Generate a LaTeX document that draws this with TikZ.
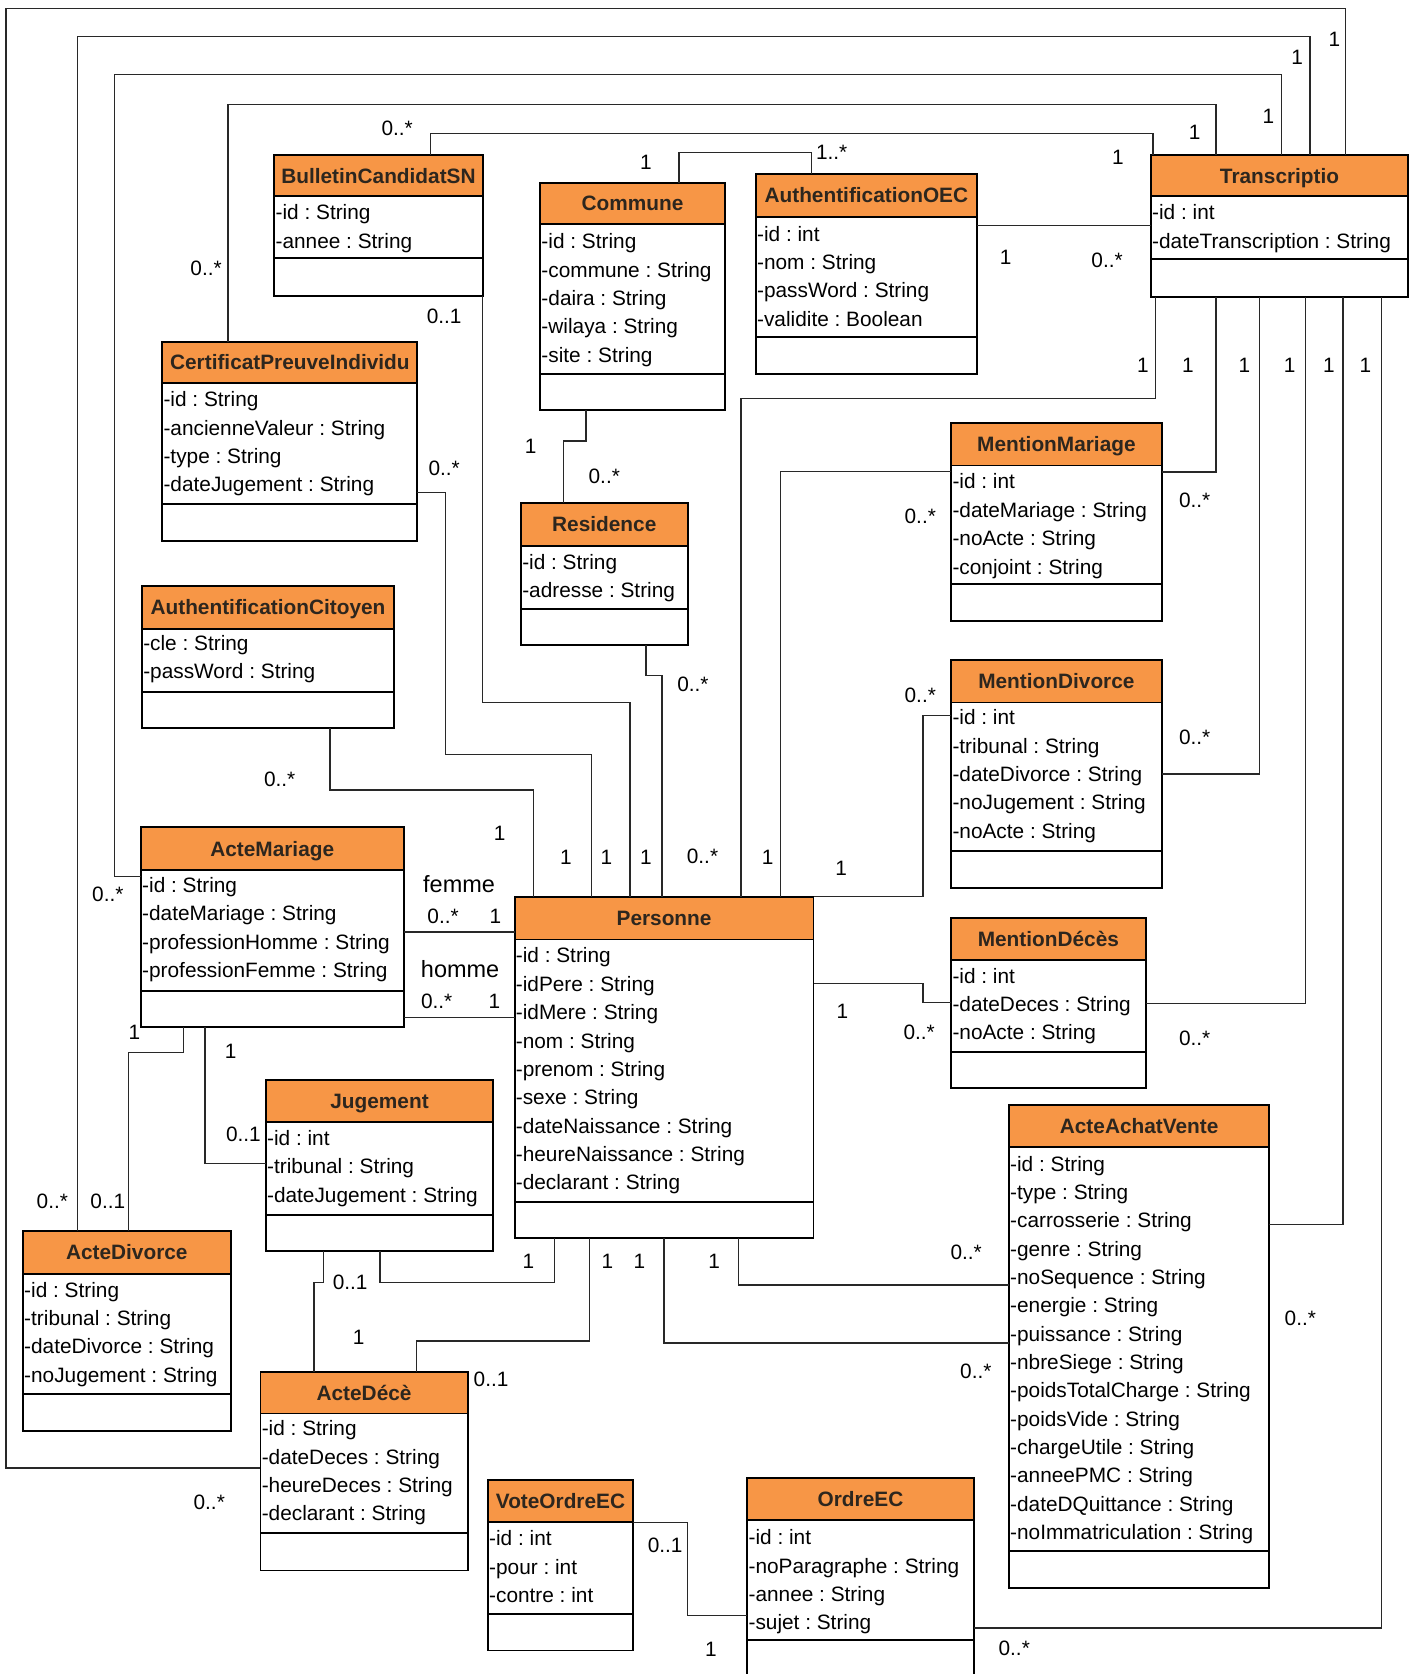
\documentclass[tikz,border=0pt]{standalone}
\usepackage{fontspec}
\setmainfont{Liberation Sans}
\usetikzlibrary{fit}
\frenchspacing
\definecolor{hdr}{RGB}{247,150,70}
\definecolor{ttl}{RGB}{45,38,30}
\definecolor{ln}{RGB}{40,40,40}
\tikzset{
  boxline/.style={line width=1.8pt, draw=black},
  conn/.style={line width=1.2pt, draw=ln},
  ttlstyle/.style={font=\fontsize{19.5}{22}\selectfont\bfseries, text=ttl, inner sep=0pt},
  attrstyle/.style={font=\fontsize{19.5}{22}\selectfont, inner sep=0pt},
  multstyle/.style={font=\fontsize{19.5}{22}\selectfont, inner sep=0pt, anchor=base},
  rolestyle/.style={font=\fontsize{22}{24}\selectfont, inner sep=0pt, anchor=base},
}
% name x1 x2 top headbottom sep bottom title
\newcommand\umlclass[8]{%
  \node[fit={(#2,#4) (#3,#7)}, inner sep=0pt, outer sep=0pt, fill=white] (#1) {};
  \fill[hdr] (#2,#4) rectangle (#3,#5);
  \draw[boxline] (#2,#5) -- (#3,#5) (#2,#6) -- (#3,#6);
  \draw[boxline] (#1.north west) rectangle (#1.south east);
  \node[ttlstyle, anchor=base] (#1-title) at ({(#2+#3)/2},{(#4+#5)/2+7}) {#8};
}
% name x firstcentre list
\newcommand\umlattrs[4]{%
  \foreach \t [count=\i] in {#4} {\node[attrstyle, anchor=base west] (#1-a\i) at ({#2+1},{#3+7+(\i-1)*26.55}) {\t};}
}
\newcommand\mlabel[4]{\node[multstyle] (#1) at (#2,{#3+7}) {#4};}
\begin{document}
\begin{tikzpicture}[x=1pt,y=-1pt]
\path[use as bounding box, fill=white] (0,0) rectangle (1325,1568);
\clip (0,0) rectangle (1325,1568);

% ---------- classes ----------
\umlclass{bcsn}{257}{452}{145}{184}{242}{277}{BulletinCandidatSN}
\umlattrs{bcsn}{257}{199}{-id : String,-annee : String}

\umlclass{commune}{506}{679}{171}{210}{350}{384}{Commune}
\umlattrs{commune}{506}{226}{-id : String,-commune : String,-daira : String,-wilaya : String,-site : String}

\umlclass{authoec}{708}{915}{163}{203}{316}{350}{AuthentificationOEC}
\umlattrs{authoec}{708}{219}{-id : int,-nom : String,-passWord : String,-validite : Boolean}

\umlclass{transcriptio}{1078}{1319}{145}{184}{243}{278}{Transcriptio}
\umlattrs{transcriptio}{1078}{199}{-id : int,-dateTranscription : String}

\umlclass{cpi}{152}{391}{320}{359}{472}{507}{CertificatPreuveIndividu}
\umlattrs{cpi}{152}{374}{-id : String,-ancienneValeur : String,-type : String,-dateJugement : String}

\umlclass{authcit}{133}{369}{549}{589}{648}{682}{AuthentificationCitoyen}
\umlattrs{authcit}{133}{602}{-cle : String,-passWord : String}

\umlclass{residence}{488}{644}{471}{511}{570}{604}{Residence}
\umlattrs{residence}{488}{526}{-id : String,-adresse : String}

\umlclass{mmariage}{891}{1088}{396}{436}{547}{582}{MentionMariage}
\umlattrs{mmariage}{891}{451}{-id : int,-dateMariage : String,-noActe : String,-conjoint : String}

\umlclass{mdivorce}{891}{1088}{618}{658}{797}{832}{MentionDivorce}
\umlattrs{mdivorce}{891}{672}{-id : int,-tribunal : String,-dateDivorce : String,-noJugement : String,-noActe : String}

\umlclass{mdeces}{891}{1073}{860}{899}{985}{1019}{MentionDécès}
\umlattrs{mdeces}{891}{914}{-id : int,-dateDeces : String,-noActe : String}

\umlclass{actemariage}{132}{378}{775}{815}{928}{962}{ActeMariage}
\umlattrs{actemariage}{132}{829}{-id : String,-dateMariage : String,-professionHomme : String,-professionFemme : String}

\umlclass{personne}{482}{762}{840}{880}{1126}{1160}{Personne}
\umlattrs{personne}{482}{895}{-id : String,-idPere : String,-idMere : String,-nom : String,-prenom : String,-sexe : String,-dateNaissance : String,-heureNaissance : String,-declarant : String}

\umlclass{jugement}{249}{462}{1012}{1051}{1138}{1172}{Jugement}
\umlattrs{jugement}{249}{1066}{-id : int,-tribunal : String,-dateJugement : String}

\umlclass{actedivorce}{21.5}{216}{1153}{1193}{1306}{1340}{ActeDivorce}
\umlattrs{actedivorce}{21.5}{1208}{-id : String,-tribunal : String,-dateDivorce : String,-noJugement : String}

\umlclass{actedeces}{244}{438}{1285}{1324}{1436}{1471}{ActeDécè}
\umlattrs{actedeces}{244}{1338}{-id : String,-dateDeces : String,-heureDeces : String,-declarant : String}

\umlclass{vote}{457}{593}{1386}{1426}{1512}{1546}{VoteOrdreEC}
\umlattrs{vote}{457}{1441}{-id : int,-pour : int,-contre : int}

\umlclass{ordre}{700}{912}{1384}{1424}{1536}{1580}{OrdreEC}
\umlattrs{ordre}{700}{1440}{-id : int,-noParagraphe : String,-annee : String,-sujet : String}

\umlclass{achat}{945}{1189}{1035}{1074}{1453}{1487}{ActeAchatVente}
\umlattrs{achat}{945}{1090}{-id : String,-type : String,-carrosserie : String,-genre : String,-noSequence : String,-energie : String,-puissance : String,-nbreSiege : String,-poidsTotalCharge : String,-poidsVide : String,-chargeUtile : String,-anneePMC : String,-dateDQuittance : String,-noImmatriculation : String}

% ---------- connectors ----------
\draw[conn] (transcriptio.north -| 1260,0) |- (5.5,8) |- (actedeces.west |- 0,1375);
\draw[conn] (transcriptio.north -| 1227,0) |- (72.5,34) -- (actedivorce.north -| 72.5,0);
\draw[conn] (transcriptio.north -| 1200,0) |- (107,69.5) |- (actemariage.west |- 0,821);
\draw[conn] (transcriptio.north -| 1139,0) |- (213.6,98) -- (cpi.north -| 213.6,0);
\draw[conn] (bcsn.north -| 403,0) |- (1080,125) -- (transcriptio.north -| 1080,0);
\draw[conn] (commune.north -| 636,0) |- (760,143) -- (authoec.north -| 760,0);
\draw[conn] (authoec.east |- 0,211) -- (transcriptio.west |- 0,211);
\draw[conn] (transcriptio.south -| 1082,0) |- (694,373) -- (personne.north -| 694,0);
\draw[conn] (transcriptio.south -| 1139,0) |- (mmariage.east |- 0,442);
\draw[conn] (mmariage.west |- 0,441.6) -| (personne.north -| 731,0);
\draw[conn] (transcriptio.south -| 1180,0) |- (mdivorce.east |- 0,725);
\draw[conn] (transcriptio.south -| 1223,0) |- (mdeces.east |- 0,940);
\draw[conn] (transcriptio.south -| 1258,0) |- (achat.east |- 0,1147);
\draw[conn] (transcriptio.south -| 1294,0) |- (ordre.east |- 0,1525);
\draw[conn] (commune.south -| 549,0) |- (527.5,413) -- (residence.north -| 527.5,0);
\draw[conn] (residence.south -| 605,0) |- (620,633) -- (personne.north -| 620,0);
\draw[conn] (authcit.south -| 309,0) |- (499.5,740) -- (personne.north -| 499.5,0);
\draw[conn] (cpi.east |- 0,461) -| (417,707) -| (personne.north -| 554,0);
\draw[conn] (bcsn.south east) |- (590,658) -- (personne.north -| 590,0);
\draw[conn] (mdivorce.west |- 0,670) -| (864.6,840) -- (personne.north east);
\draw[conn] (personne.east |- 0,921) -| (864.6,939) -- (mdeces.west |- 0,939);
\draw[conn] (actemariage.east |- 0,873) -- (personne.west |- 0,873);
\draw[conn] (actemariage.east |- 0,953) -- (personne.west |- 0,953);
\draw[conn] (actemariage.south -| 172,0) |- (120.5,986) -- (actedivorce.north -| 120.5,0);
\draw[conn] (actemariage.south -| 192,0) |- (jugement.west |- 0,1090);
\draw[conn] (jugement.south -| 356,0) |- (519.7,1201) -- (personne.south -| 519.7,0);
\draw[conn] (jugement.south -| 303,0) |- (294,1201) -- (actedeces.north -| 294,0);
\draw[conn] (personne.south -| 552,0) |- (390,1256) -- (actedeces.north -| 390,0);
\draw[conn] (personne.south -| 622,0) |- (achat.west |- 0,1258);
\draw[conn] (personne.south -| 692,0) |- (achat.west |- 0,1203.5);
\draw[conn] (vote.east |- 0,1426) -| (644,1513) -- (ordre.west |- 0,1513);

% ---------- labels ----------
\mlabel{l1}{1250}{37}{1}
\mlabel{l2}{1215}{53}{1}
\mlabel{l3}{1188}{109}{1}
\mlabel{l4}{1119}{124}{1}
\mlabel{l5}{1047}{147}{1}
\mlabel{l6}{372}{120}{0..*}
\mlabel{l7}{605}{152}{1}
\mlabel{l8}{779}{142}{1..*}
\mlabel{l9}{942}{241}{1}
\mlabel{l10}{1037}{244}{0..*}
\mlabel{l11}{193}{251}{0..*}
\mlabel{l12}{416}{296}{0..1}
\mlabel{l13}{416}{438}{0..*}
\mlabel{l14}{497}{418}{1}
\mlabel{l15}{566}{446}{0..*}
\mlabel{l16}{1070.5}{342}{1}
\mlabel{l17}{1112.7}{342}{1}
\mlabel{l18}{1165.7}{342}{1}
\mlabel{l19}{1207.9}{342}{1}
\mlabel{l20}{1244.7}{342}{1}
\mlabel{l21}{1279}{342}{1}
\mlabel{l22}{862}{483}{0..*}
\mlabel{l23}{1119}{468}{0..*}
\mlabel{l24}{649}{641}{0..*}
\mlabel{l25}{262}{730}{0..*}
\mlabel{l26}{862}{651}{0..*}
\mlabel{l27}{1119}{690}{0..*}
\mlabel{l28}{468}{780}{1}
\mlabel{l29}{530}{803}{1}
\mlabel{l30}{568}{803}{1}
\mlabel{l31}{605}{803}{1}
\mlabel{l32}{658}{802}{0..*}
\mlabel{l33}{719}{803}{1}
\mlabel{l34}{788}{813}{1}
\mlabel{l35}{101}{837}{0..*}
\node[rolestyle] (rf) at (430,836) {femme};
\node[rolestyle] (rh) at (431,916) {homme};
\mlabel{l36}{415}{858}{0..*}
\mlabel{l37}{464}{858}{1}
\mlabel{l38}{409}{938}{0..*}
\mlabel{l39}{463}{938}{1}
\mlabel{l40}{789}{947}{1}
\mlabel{l41}{861}{967}{0..*}
\mlabel{l42}{1119}{972}{0..*}
\mlabel{l43}{126}{967}{1}
\mlabel{l44}{216}{984}{1}
\mlabel{l45}{228}{1062}{0..1}
\mlabel{l46}{49}{1125}{0..*}
\mlabel{l47}{101}{1125}{0..1}
\mlabel{l48}{905}{1173}{0..*}
\mlabel{l49}{495}{1181}{1}
\mlabel{l50}{569}{1181}{1}
\mlabel{l51}{599}{1181}{1}
\mlabel{l52}{669}{1181}{1}
\mlabel{l53}{328}{1201}{0..1}
\mlabel{l54}{1218}{1235}{0..*}
\mlabel{l55}{336}{1252}{1}
\mlabel{l56}{914}{1284}{0..*}
\mlabel{l57}{460}{1292}{0..1}
\mlabel{l58}{196}{1407}{0..*}
\mlabel{l59}{623}{1447}{0..1}
\mlabel{l60}{666}{1545}{1}
\mlabel{l61}{950}{1544}{0..*}
\end{tikzpicture}
\end{document}
